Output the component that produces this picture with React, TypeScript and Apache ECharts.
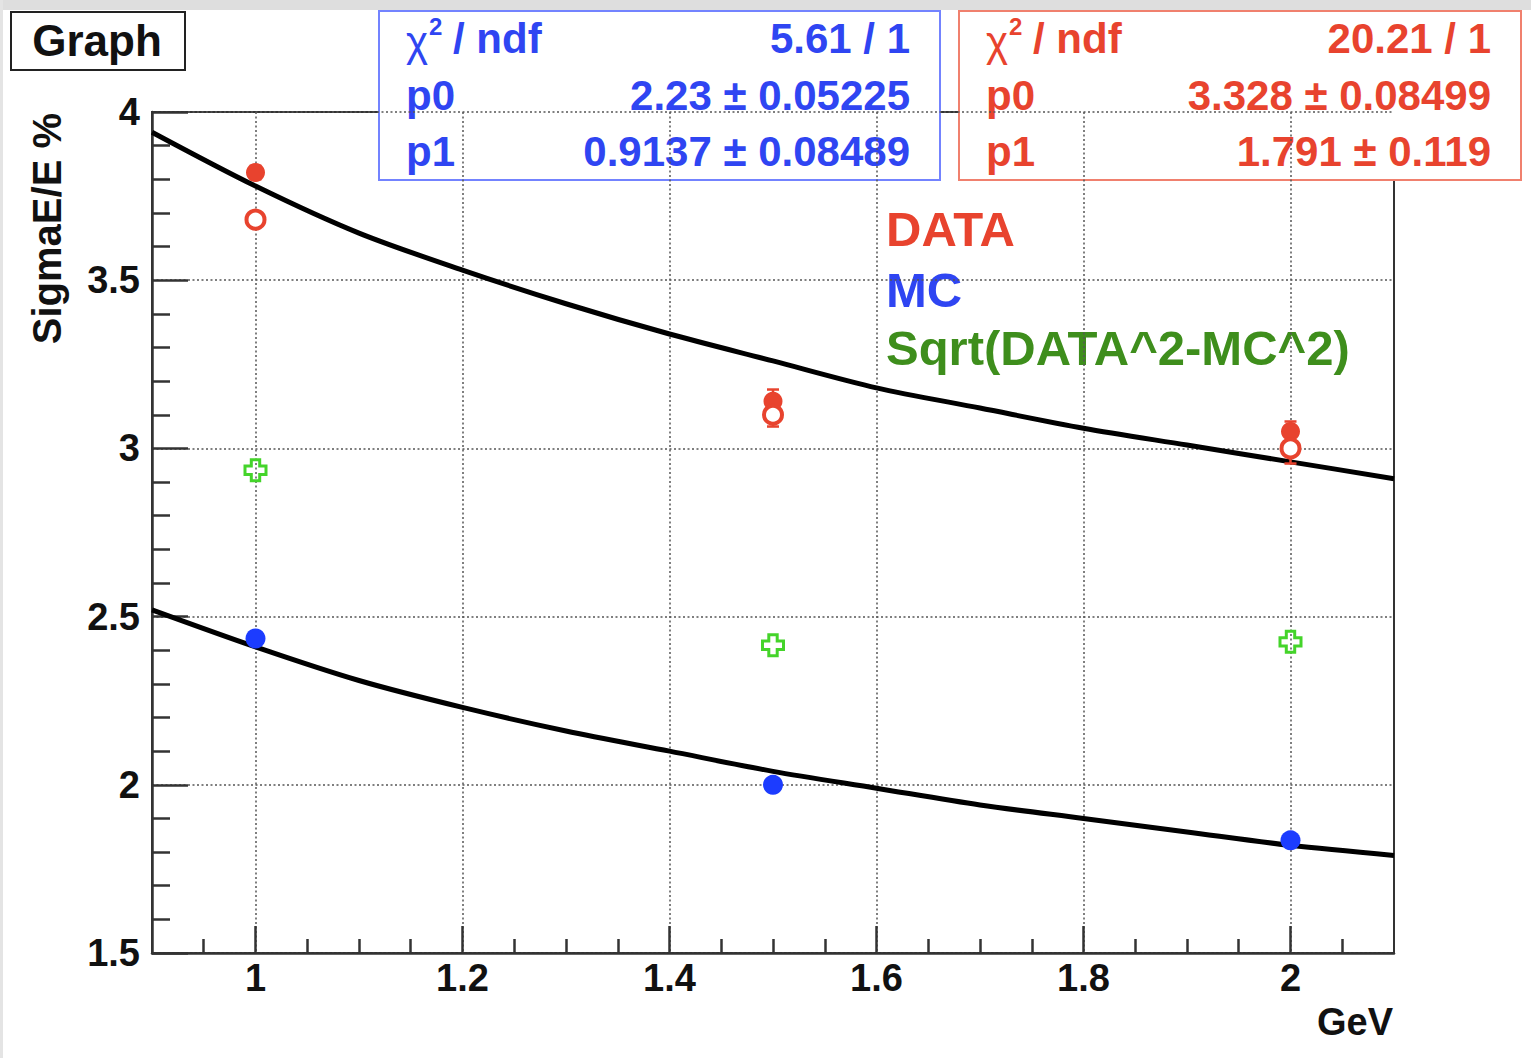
import React, { useEffect, useRef } from "react";
import * as echarts from "echarts";

// ---- data ----
const ENERGY = [1, 1.5, 2];
const DATA_FILLED = [3.82, 3.14, 3.05];
const DATA_FILLED_ERR = [0.02, 0.035, 0.03];
const DATA_OPEN = [3.68, 3.1, 3.0];
const DATA_OPEN_ERR = [0.02, 0.035, 0.045];
const MC_VALUES = [2.435, 2.0, 1.835];
const SQRT_DIFF = [2.935, 2.415, 2.425];

const FIT_X = [0.9, 1.0, 1.1, 1.2, 1.3, 1.4, 1.5, 1.6, 1.7, 1.8, 1.9, 2.0, 2.1];
const DATA_FIT = [3.94, 3.78, 3.64, 3.53, 3.43, 3.34, 3.26, 3.18, 3.12, 3.06, 3.01, 2.96, 2.91];
const MC_FIT = [2.52, 2.41, 2.31, 2.23, 2.16, 2.1, 2.04, 1.99, 1.94, 1.9, 1.86, 1.82, 1.79];

const X_MAJOR = [1, 1.2, 1.4, 1.6, 1.8, 2];
const X_MINOR = [0.95, 1.05, 1.1, 1.15, 1.25, 1.3, 1.35, 1.45, 1.5, 1.55, 1.65, 1.7, 1.75, 1.85, 1.9, 1.95, 2.05];

const BLUE_STATS = [
  ["p0", "2.23 ± 0.05225"],
  ["p1", "0.9137 ± 0.08489"],
];
const BLUE_CHI = "5.61 / 1";
const RED_STATS = [
  ["p0", "3.328 ± 0.08499"],
  ["p1", "1.791 ± 0.119"],
];
const RED_CHI = "20.21 / 1";
const LEGEND_ITEMS = ["DATA", "MC", "Sqrt(DATA^2-MC^2)"];

const FONT = "'Liberation Sans', Arial, Helvetica, sans-serif";
const RED = "#e8432e";
const BLUE_M = "#1c3cff";
const BLUE_T = "#2f45f2";
const GREEN_M = "#44d42a";
const GREEN_T = "#3e8e1c";

function statBox(x: number, y: number, w: number, h: number, border: string, color: string, chi: string, rows: string[][]) {
  const left = x + 27;
  const right = x + w - 30;
  const fs = 42;
  const t = (tx: number, ty: number, text: string, align: string) => ({
    type: "text",
    x: tx,
    y: ty,
    style: { text, fill: color, font: `bold ${fs}px ${FONT}`, align, verticalAlign: "middle" },
  });
  return [
    { type: "rect", shape: { x, y, width: w, height: h }, style: { fill: "#fff", stroke: border, lineWidth: 2 } },
    {
      type: "text", x: left, y: y + 30,
      style: { text: "χ", fill: color, font: `${fs}px ${FONT}`, align: "left", verticalAlign: "middle" },
    },
    {
      type: "text", x: left + 23, y: y + 15,
      style: { text: "2", fill: color, font: `bold 24px ${FONT}`, align: "left", verticalAlign: "middle" },
    },
    t(left + 47, y + 27, "/ ndf", "left"),
    t(right, y + 27, chi, "right"),
    t(left, y + 84, rows[0][0], "left"),
    t(right, y + 84, rows[0][1], "right"),
    t(left, y + 140, rows[1][0], "left"),
    t(right, y + 140, rows[1][1], "right"),
  ];
}

function errorSeries(values: number[], errs: number[], color: string) {
  return {
    type: "custom",
    xAxisIndex: 0,
    yAxisIndex: 0,
    z: 3,
    data: ENERGY.map((e, i) => [e, values[i], errs[i]]),
    renderItem: (params: any, api: any) => {
      const x = api.value(0);
      const y = api.value(1);
      const er = api.value(2);
      const top = api.coord([x, y + er]);
      const bot = api.coord([x, y - er]);
      const cap = 6;
      const st = { stroke: color, lineWidth: 2.5 };
      return {
        type: "group",
        children: [
          { type: "line", shape: { x1: top[0], y1: top[1], x2: bot[0], y2: bot[1] }, style: st },
          { type: "line", shape: { x1: top[0] - cap, y1: top[1], x2: top[0] + cap, y2: top[1] }, style: st },
          { type: "line", shape: { x1: bot[0] - cap, y1: bot[1], x2: bot[0] + cap, y2: bot[1] }, style: st },
        ],
      };
    },
  };
}

export default function App() {
  const ref = useRef<HTMLDivElement>(null);
  useEffect(() => {
    if (!ref.current) return;
    const chart = echarts.init(ref.current, null, { renderer: "svg" });
    const gridLine = { show: true, lineStyle: { color: "#555", type: [2, 2.5], width: 1.5 } };
    const option: any = {
      animation: false,
      backgroundColor: "#fff",
      grid: { left: 152, right: 137, top: 112, bottom: 105, show: true, borderColor: "#333", borderWidth: 2 },
      xAxis: [
        {
          type: "value", min: 0.9, max: 2.1, position: "bottom",
          axisLine: { show: true, lineStyle: { color: "#333", width: 2.5 } },
          axisTick: { show: true, inside: true, length: 27, customValues: X_MAJOR, lineStyle: { color: "#333", width: 2.5 } },
          axisLabel: {
            show: true, customValues: X_MAJOR, margin: 6, color: "#111",
            fontFamily: FONT, fontWeight: "bold", fontSize: 38,
            formatter: (v: number) => String(+v.toFixed(1)),
          },
          splitLine: gridLine,
        },
        {
          type: "value", min: 0.9, max: 2.1, position: "bottom",
          axisLine: { show: false },
          axisTick: { show: true, inside: true, length: 14, customValues: X_MINOR, lineStyle: { color: "#333", width: 2.5 } },
          axisLabel: { show: false },
          splitLine: { show: false },
        },
      ],
      yAxis: {
        type: "value", min: 1.5, max: 4, interval: 0.5,
        axisLine: { show: true, lineStyle: { color: "#333", width: 2.5 } },
        axisTick: { show: true, inside: true, length: 36, lineStyle: { color: "#333", width: 2.5 } },
        minorTick: { show: true, splitNumber: 5, length: 18, lineStyle: { color: "#333", width: 2.5 } },
        axisLabel: { color: "#111", fontFamily: FONT, fontWeight: "bold", fontSize: 38, margin: 12 },
        splitLine: gridLine,
      },
      series: [
        {
          type: "line", name: "DATA fit", xAxisIndex: 0, smooth: 0.3, showSymbol: false, symbol: "none", z: 2,
          data: FIT_X.map((x, i) => [x, DATA_FIT[i]]),
          lineStyle: { color: "#000", width: 5 },
        },
        {
          type: "line", name: "MC fit", xAxisIndex: 0, smooth: 0.3, showSymbol: false, symbol: "none", z: 2,
          data: FIT_X.map((x, i) => [x, MC_FIT[i]]),
          lineStyle: { color: "#000", width: 5 },
        },
        errorSeries(DATA_FILLED, DATA_FILLED_ERR, RED),
        errorSeries(DATA_OPEN, DATA_OPEN_ERR, RED),
        {
          type: "scatter", name: "DATA", xAxisIndex: 0, z: 4, symbol: "circle", symbolSize: 19,
          data: ENERGY.map((e, i) => [e, DATA_FILLED[i]]),
          itemStyle: { color: RED, opacity: 1 },
        },
        {
          type: "scatter", name: "DATA open", xAxisIndex: 0, z: 4, symbol: "circle", symbolSize: 18,
          data: ENERGY.map((e, i) => [e, DATA_OPEN[i]]),
          itemStyle: { color: "#fff", borderColor: RED, borderWidth: 4, opacity: 1 },
        },
        {
          type: "scatter", name: "MC", xAxisIndex: 0, z: 4, symbol: "circle", symbolSize: 20,
          data: ENERGY.map((e, i) => [e, MC_VALUES[i]]),
          itemStyle: { color: BLUE_M, opacity: 1 },
        },
        {
          type: "scatter", name: "Sqrt(DATA^2-MC^2)", xAxisIndex: 0, z: 4,
          symbol: "path://M3,0 L7,0 L7,3 L10,3 L10,7 L7,7 L7,10 L3,10 L3,7 L0,7 L0,3 L3,3 Z",
          symbolSize: 21,
          data: ENERGY.map((e, i) => [e, SQRT_DIFF[i]]),
          itemStyle: { color: "rgba(255,255,255,0)", borderColor: GREEN_M, borderWidth: 3, opacity: 1 },
        },
      ],
      graphic: [
        { type: "rect", shape: { x: 0, y: 0, width: 1531, height: 10 }, style: { fill: "#dedede" }, z: 0 },
        { type: "rect", shape: { x: 0, y: 0, width: 3, height: 1058 }, style: { fill: "#e4e4e4" }, z: 0 },
        { type: "rect", shape: { x: 11, y: 12, width: 174, height: 58 }, style: { fill: "#fff", stroke: "#222", lineWidth: 2 } },
        {
          type: "text", x: 97, y: 40,
          style: { text: "Graph", fill: "#111", font: `bold 44px ${FONT}`, align: "center", verticalAlign: "middle" },
        },
        ...statBox(379, 11, 561, 169, "#7383ff", BLUE_T, BLUE_CHI, BLUE_STATS),
        ...statBox(959, 11, 562, 169, "#f0806e", RED, RED_CHI, RED_STATS),
        {
          type: "text", x: 886, y: 229,
          style: { text: LEGEND_ITEMS[0], fill: RED, font: `bold 49px ${FONT}`, align: "left", verticalAlign: "middle" },
        },
        {
          type: "text", x: 886, y: 290,
          style: { text: LEGEND_ITEMS[1], fill: BLUE_T, font: `bold 49px ${FONT}`, align: "left", verticalAlign: "middle" },
        },
        {
          type: "text", x: 886, y: 348,
          style: { text: LEGEND_ITEMS[2], fill: GREEN_T, font: `bold 49px ${FONT}`, align: "left", verticalAlign: "middle" },
        },
        {
          type: "text", x: 47, y: 113, rotation: Math.PI / 2,
          style: { text: "SigmaE/E %", fill: "#111", font: `bold 40px ${FONT}`, align: "right", verticalAlign: "middle" },
        },
        {
          type: "text", x: 1393, y: 1022,
          style: { text: "GeV", fill: "#111", font: `bold 38px ${FONT}`, align: "right", verticalAlign: "middle" },
        },
      ],
    };
    chart.setOption(option);
    return () => chart.dispose();
  }, []);
  return (
    <div
      ref={ref}
      style={{ position: "fixed", left: 0, top: 0, width: 1531, height: 1058, background: "#fff" }}
    />
  );
}
